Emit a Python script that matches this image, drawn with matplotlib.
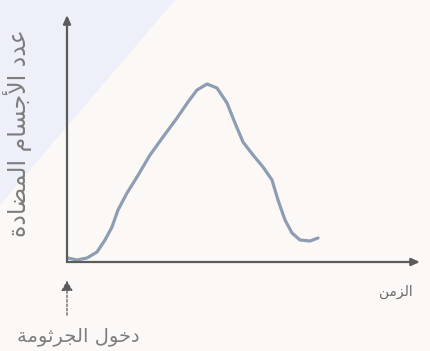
import matplotlib
matplotlib.use("Agg")
import matplotlib.pyplot as plt
from matplotlib.patches import Polygon, FancyArrowPatch

# ---- data (arbitrary units) ----
time = [1, 10, 20, 30, 38, 45, 51, 60, 70, 83, 96, 110, 121, 130, 140, 150,
        160, 168, 176, 186, 196, 205, 211, 218, 225, 233, 243, 251]
antibodies = [4, 2, 4, 10, 22, 35, 52, 69, 85, 107, 125, 144, 160, 172, 178, 174,
              159, 139, 120, 107, 95, 82, 62, 42, 29, 22, 21, 24]

y_label = "عدد الأجسام المضادة"
x_label = "الزمن"
entry_label = "دخول الجرثومة"

# ---- minimal Arabic shaping (contextual forms + visual order) ----
FORMS = {  # iso, fin, ini, med
    'ا': ('\uFE8D', '\uFE8E', None, None),
    'أ': ('\uFE83', '\uFE84', None, None),
    'ج': ('\uFE9D', '\uFE9E', '\uFE9F', '\uFEA0'),
    'خ': ('\uFEA5', '\uFEA6', '\uFEA7', '\uFEA8'),
    'د': ('\uFEA9', '\uFEAA', None, None),
    'ر': ('\uFEAD', '\uFEAE', None, None),
    'ز': ('\uFEAF', '\uFEB0', None, None),
    'س': ('\uFEB1', '\uFEB2', '\uFEB3', '\uFEB4'),
    'ض': ('\uFEBD', '\uFEBE', '\uFEBF', '\uFEC0'),
    'ع': ('\uFEC9', '\uFECA', '\uFECB', '\uFECC'),
    'ث': ('\uFE99', '\uFE9A', '\uFE9B', '\uFE9C'),
    'ل': ('\uFEDD', '\uFEDE', '\uFEDF', '\uFEE0'),
    'م': ('\uFEE1', '\uFEE2', '\uFEE3', '\uFEE4'),
    'ن': ('\uFEE5', '\uFEE6', '\uFEE7', '\uFEE8'),
    'و': ('\uFEED', '\uFEEE', None, None),
    'ة': ('\uFE93', '\uFE94', None, None),
}
LAMALEF = {'ا': ('\uFEFB', '\uFEFC'), 'أ': ('\uFEF7', '\uFEF8')}


def shape(text):
    chars = list(text)
    out = []
    i = 0
    n = len(chars)

    def dual(c):
        return c in FORMS and FORMS[c][2] is not None

    while i < n:
        c = chars[i]
        prev = chars[i - 1] if i > 0 else ' '
        joins_prev = dual(prev) and c in FORMS
        if c == 'ل' and i + 1 < n and chars[i + 1] in LAMALEF:
            iso, fin = LAMALEF[chars[i + 1]]
            out.append(fin if joins_prev else iso)
            i += 2
            continue
        if c not in FORMS:
            out.append(c)
            i += 1
            continue
        nxt = chars[i + 1] if i + 1 < n else ' '
        joins_next = dual(c) and nxt in FORMS
        iso, fin, ini, med = FORMS[c]
        if joins_prev and joins_next:
            out.append(med)
        elif joins_prev:
            out.append(fin)
        elif joins_next:
            out.append(ini)
        else:
            out.append(iso)
        i += 1
    return ''.join(reversed(out))


W, H = 431, 351
fig = plt.figure(figsize=(W / 100, H / 100), dpi=100)
fig.patch.set_facecolor('#fcf8f5')

# faint scan tint in top-left corner
fig.patches.append(Polygon([(0, 1), (175 / W, 1), (0, 1 - 205 / H)], closed=True,
                           transform=fig.transFigure, facecolor='#eef0f9',
                           edgecolor='none', zorder=-5))

x0, y0, x1, y1 = 67, 262, 420, 15
ax = fig.add_axes([x0 / W, 1 - y0 / H, (x1 - x0) / W, (y0 - y1) / H])
ax.set_zorder(2)
ax.set_xlim(0, x1 - x0)
ax.set_ylim(0, y0 - y1)
ax.patch.set_alpha(0)
for s in ax.spines.values():
    s.set_visible(False)
ax.set_xticks([])
ax.set_yticks([])

axis_col = '#5b5b5b'
ax.annotate('', xy=(1, 0), xytext=(0, 0), xycoords='axes fraction',
            arrowprops=dict(arrowstyle='-|>,head_length=0.5,head_width=0.22',
                            color=axis_col, lw=1.6, shrinkA=0, shrinkB=0))
ax.annotate('', xy=(0, 1), xytext=(0, 0), xycoords='axes fraction',
            arrowprops=dict(arrowstyle='-|>,head_length=0.5,head_width=0.22',
                            color=axis_col, lw=1.6, shrinkA=0, shrinkB=0))

ax.plot(time, antibodies, color='#8d9db3', lw=2.3, solid_joinstyle='round',
        solid_capstyle='round', clip_on=False)

font = ['DejaVu Sans']
fig.text(18 / W, 1 - 133 / H, shape(y_label), rotation=90, ha='center', va='center',
         fontsize=17, color='#7d7d7d', family=font)
fig.text(396 / W, 1 - 292 / H, shape(x_label), ha='center', va='center',
         fontsize=10, color='#6a6a6a', family=font)
fig.text(78 / W, 1 - 336 / H, shape(entry_label), ha='center', va='center',
         fontsize=14, color='#7d7d7d', family=font)

# entry arrow below the origin
fig.patches.append(FancyArrowPatch(
    (67 / W, 1 - 318 / H), (67 / W, 1 - 278 / H), transform=fig.transFigure,
    arrowstyle='-|>,head_length=6,head_width=3.5', color='#5b5b5b', lw=0.9,
    linestyle=(0, (2, 1.5))))

fig.savefig('out.png', dpi=100, facecolor=fig.get_facecolor())
